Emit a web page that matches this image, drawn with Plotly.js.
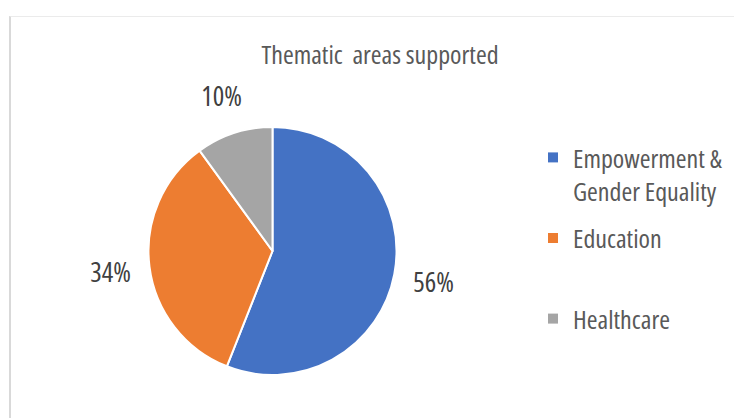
<!DOCTYPE html>
<html>
<head>
<meta charset="utf-8">
<script src="https://cdn.plot.ly/plotly-3.0.1.min.js"></script>
<style>
html,body{margin:0;padding:0;background:#fff;}
#chart{position:absolute;left:0;top:0;width:734px;height:418px;}
#chart text{font-stretch:condensed !important;}
#frame{position:absolute;left:9px;top:16px;width:740px;height:420px;border-left:2px solid #d9d9d9;border-top:1px solid #ebebeb;pointer-events:none;z-index:10;}
</style>
</head>
<body>
<div id="chart"></div>
<div id="frame"></div>
<script>
const categories = ["Empowerment &", "Education", "Healthcare"];
const legendLabels = ["Empowerment &<br>Gender Equality", "Education<br> ", "Healthcare"];
const values = [56, 34, 10];
const labelsText = ["56%", "34%", "10%"];
const colors = ["#4472C4", "#ED7D31", "#A5A5A5"];

const W = 734, H = 418;
const FONT = "'Open Sans', 'Roboto Condensed', sans-serif";
const FS = 26;
const domX = [148 / W, 397 / W];
const domY = [1 - 375 / H, 1 - 127 / H];

// label annotations placed along each slice's mid-angle, derived from values
const total = values.reduce((a, b) => a + b, 0);
const cx = (domX[0] + domX[1]) / 2 * W;
const cy = (1 - (domY[0] + domY[1]) / 2) * H;
const R = Math.min((domX[1] - domX[0]) * W, (domY[1] - domY[0]) * H) / 2;
let cum = 0;
const annotations = values.map((v, i) => {
  const mid = (cum + v / 2) / total * 2 * Math.PI;
  cum += v;
  const px = cx + Math.sin(mid) * R * 1.32;
  const py = cy - Math.cos(mid) * R * 1.32;
  return {
    x: px / W, y: 1 - py / H, xref: "paper", yref: "paper",
    xanchor: "center", yanchor: "middle",
    text: labelsText[i], showarrow: false,
    font: {family: FONT, size: 27, color: "#404040"}
  };
});

const data = [{
  type: "pie",
  labels: categories,
  values: values,
  sort: false,
  direction: "clockwise",
  rotation: 0,
  marker: {colors: colors, line: {color: "#ffffff", width: 2}},
  textinfo: "none",
  hoverinfo: "label+percent",
  showlegend: false,
  domain: {x: domX, y: domY}
}];

// legend entries (one per slice), same colours as the pie
legendLabels.forEach((lab, i) => {
  data.push({
    type: "scatter", mode: "markers",
    x: [null], y: [null],
    name: lab,
    legendgroup: "g" + i,
    marker: {symbol: "square", size: 10, color: colors[i]},
    hoverinfo: "skip",
    showlegend: true
  });
});

const layout = {
  width: W, height: H,
  margin: {l: 0, r: 0, t: 0, b: 0, autoexpand: false},
  paper_bgcolor: "#ffffff",
  plot_bgcolor: "rgba(0,0,0,0)",
  xaxis: {visible: false},
  yaxis: {visible: false},
  showlegend: true,
  title: {
    text: "Thematic  areas supported",
    x: 380 / W, xanchor: "center", xref: "paper",
    y: 1 - 55 / H, yanchor: "middle", yref: "paper",
    font: {family: FONT, size: FS, color: "#595959"}
  },
  legend: {
    x: 533 / W, xanchor: "left",
    y: 1 - 134 / H, yanchor: "top",
    font: {family: FONT, size: FS, color: "#595959"},
    valign: "top",
    traceorder: "grouped",
    tracegroupgap: 10,
    itemwidth: 30,
    bgcolor: "rgba(0,0,0,0)"
  },
  annotations: annotations
};

Plotly.newPlot("chart", data, layout, {displayModeBar: false, staticPlot: true});
</script>
</body>
</html>
